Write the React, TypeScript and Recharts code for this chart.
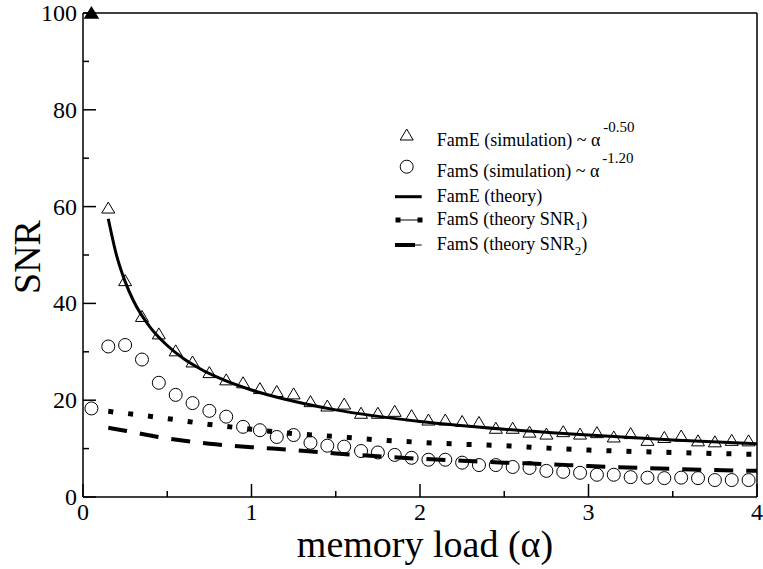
import React from 'react';
import { ComposedChart, Line, Scatter, XAxis, YAxis, Legend } from 'recharts';

const serif = 'Liberation Serif, Times New Roman, DejaVu Serif, serif';
const serifStyle = { fontFamily: serif };

// simulation points, alpha = 0.05 ... 3.95
const simAlpha = [
  0.05, 0.15, 0.25, 0.35, 0.45, 0.55, 0.65, 0.75, 0.85, 0.95,
  1.05, 1.15, 1.25, 1.35, 1.45, 1.55, 1.65, 1.75, 1.85, 1.95,
  2.05, 2.15, 2.25, 2.35, 2.45, 2.55, 2.65, 2.75, 2.85, 2.95,
  3.05, 3.15, 3.25, 3.35, 3.45, 3.55, 3.65, 3.75, 3.85, 3.95,
];
const famSSim = [
  18.3, 31.1, 31.4, 28.4, 23.6, 21.1, 19.4, 17.8, 16.6, 14.5,
  13.8, 12.4, 12.8, 11.2, 10.6, 10.4, 9.5, 9.2, 8.7, 8.1,
  7.7, 7.7, 7.1, 6.6, 6.6, 6.2, 6.0, 5.4, 5.2, 5.0,
  4.6, 4.6, 4.1, 4.0, 3.9, 4.0, 3.9, 3.5, 3.5, 3.5,
];
// FamE starts at 0.15 (the 0.05 point sits at the top of the axis)
const famESim = [
  59.7, 44.7, 37.3, 33.7, 30.2, 27.9, 25.7, 24.2, 23.6,
  22.4, 21.8, 21.3, 19.7, 18.8, 19.2, 17.3, 17.3, 17.7, 16.8,
  15.9, 15.9, 15.6, 15.4, 14.2, 14.2, 13.4, 13.0, 13.5, 13.0,
  13.3, 12.4, 13.1, 11.7, 12.3, 12.6, 11.6, 11.4, 11.7, 11.6,
];
const famECapped = [{ x: 0.05, y: 100 }];

const famETheoryAlpha = [0.15, 0.2, 0.25, 0.3, 0.4, 0.5, 0.6, 0.7, 0.8, 1.0, 1.2, 1.5, 2.0, 2.5, 3.0, 3.5, 4.0];
const famETheory = [57.5, 49.8, 44.5, 40.5, 35.0, 31.3, 28.5, 26.4, 24.7, 22.1, 20.2, 18.0, 15.6, 14.0, 12.8, 11.8, 11.0];

const famSTheoryAlpha = [0.15, 0.25, 0.5, 0.75, 1.0, 1.25, 1.5, 1.75, 2.0, 2.25, 2.5, 2.75, 3.0, 3.5, 4.0];
const famSTheorySNR1 = [17.7, 17.3, 16.2, 15.0, 14.0, 13.1, 12.5, 11.8, 11.3, 10.9, 10.6, 10.1, 9.7, 9.2, 8.8];
const famSTheorySNR2 = [14.3, 13.7, 12.1, 11.0, 10.3, 9.7, 9.0, 8.4, 7.9, 7.5, 7.1, 6.8, 6.4, 5.8, 5.4];

const xTicks = [0, 0.5, 1, 1.5, 2, 2.5, 3, 3.5, 4];
const yTicks = [0, 10, 20, 30, 40, 50, 60, 70, 80, 90, 100];

const famSPoints = simAlpha.map((x, i) => ({ x, y: famSSim[i] }));
const famEPoints = simAlpha.slice(1).map((x, i) => ({ x, y: famESim[i] }));
const famELine = famETheoryAlpha.map((x, i) => ({ x, y: famETheory[i] }));
const snr1Line = famSTheoryAlpha.map((x, i) => ({ x, y: famSTheorySNR1[i] }));
const snr2Line = famSTheoryAlpha.map((x, i) => ({ x, y: famSTheorySNR2[i] }));

const axisStyle = { stroke: '#000', strokeWidth: 1.5 };

const BottomTick = (props: any) => {
  const { x, y, payload } = props;
  const major = Number.isInteger(payload.value);
  return (
    <g>
      <line x1={x} y1={y} x2={x} y2={y - (major ? 13 : 6)} stroke="#000" strokeWidth={1.5} />
      {major && (
        <text x={x} y={y + 23} textAnchor="middle" fontSize={24} style={serifStyle} fill="#000">
          {payload.value}
        </text>
      )}
    </g>
  );
};

const TopTick = (props: any) => {
  const { x, y, payload } = props;
  const major = Number.isInteger(payload.value);
  return <line x1={x} y1={y} x2={x} y2={y + (major ? 13 : 6)} stroke="#000" strokeWidth={1.5} />;
};

const LeftTick = (props: any) => {
  const { x, y, payload } = props;
  const major = payload.value % 20 === 0;
  return (
    <g>
      <line x1={x} y1={y} x2={x + (major ? 13 : 6)} y2={y} stroke="#000" strokeWidth={1.5} />
      {major && (
        <text x={x - 6} y={y + 8} textAnchor="end" fontSize={24} style={serifStyle} fill="#000">
          {payload.value}
        </text>
      )}
    </g>
  );
};

const RightTick = (props: any) => {
  const { x, y, payload } = props;
  const major = payload.value % 20 === 0;
  return <line x1={x} y1={y} x2={x - (major ? 13 : 6)} y2={y} stroke="#000" strokeWidth={1.5} />;
};

const OpenTriangle = (props: any) => {
  const { cx, cy } = props;
  return (
    <polygon
      points={`${cx},${cy - 6} ${cx - 6.5},${cy + 5} ${cx + 6.5},${cy + 5}`}
      fill="none"
      stroke="#000"
      strokeWidth={1}
    />
  );
};

const FilledTriangle = (props: any) => {
  const { cx, cy } = props;
  return <polygon points={`${cx},${cy - 7} ${cx - 7.8},${cy + 5.7} ${cx + 7.8},${cy + 5.7}`} fill="#000" />;
};

const OpenCircle = (props: any) => {
  const { cx, cy } = props;
  return <circle cx={cx} cy={cy} r={6.5} fill="none" stroke="#000" strokeWidth={1} />;
};

const XLabel = () => (
  <text x={425} y={557} textAnchor="middle" fontSize={38} style={serifStyle} fill="#000">
    memory load (α)
  </text>
);

const YLabel = () => (
  <text x={40} y={257} transform="rotate(-90 40 257)" textAnchor="middle" fontSize={38} style={serifStyle} fill="#000">
    SNR
  </text>
);

const legendText = { fontFamily: serif, fontSize: 18 };
const supStyle = { fontSize: 15 };

const renderLegend = () => (
  <svg width={300} height={145} style={{ overflow: 'visible' }}>
    <polygon points="16.7,14 10.2,25 23.2,25" fill="none" stroke="#000" strokeWidth={1} />
    <text x={46.7} y={30.7} style={legendText} fill="#000">
      FamE (simulation) ~ α
      <tspan dx={3} dy={-14} style={supStyle}>-0.50</tspan>
    </text>

    <circle cx={16.7} cy={51.7} r={6.5} fill="none" stroke="#000" strokeWidth={1} />
    <text x={46.7} y={61.7} style={legendText} fill="#000">
      FamS (simulation) ~ α
      <tspan dx={3} dy={-14} style={supStyle}>-1.20</tspan>
    </text>

    <line x1={5} y1={81.7} x2={31.7} y2={81.7} stroke="#000" strokeWidth={3} />
    <text x={46.7} y={86.7} style={legendText} fill="#000">FamE (theory)</text>

    <line x1={8} y1={105} x2={30} y2={105} stroke="#000" strokeWidth={1} />
    <rect x={5.5} y={102.5} width={5} height={5} fill="#000" />
    <rect x={27.5} y={102.5} width={5} height={5} fill="#000" />
    <text x={46.7} y={109.5} style={legendText} fill="#000">
      FamS (theory SNR<tspan dy={5} style={{ fontSize: 13 }}>1</tspan>
      <tspan dy={-5}>)</tspan>
    </text>

    <line x1={5} y1={130} x2={25} y2={130} stroke="#000" strokeWidth={4} />
    <line x1={25} y1={130} x2={31.7} y2={130} stroke="#000" strokeWidth={1} />
    <text x={46.7} y={135} style={legendText} fill="#000">
      FamS (theory SNR<tspan dy={5} style={{ fontSize: 13 }}>2</tspan>
      <tspan dy={-5}>)</tspan>
    </text>
  </svg>
);

export default function App() {
  return (
    <div style={{ position: 'absolute', left: 0, top: 0, width: 763, height: 569, background: '#fff' }}>
      <ComposedChart width={763} height={569} margin={{ top: 12, right: 5, bottom: 71, left: 82 }}>
        <XAxis
          dataKey="x"
          type="number"
          domain={[0, 4]}
          ticks={xTicks}
          interval={0}
          height={1}
          tickSize={0}
          tickMargin={0}
          tickLine={false}
          axisLine={axisStyle}
          tick={BottomTick}
          label={<XLabel />}
        />
        <XAxis
          xAxisId="top"
          orientation="top"
          type="number"
          domain={[0, 4]}
          ticks={xTicks}
          interval={0}
          height={1}
          tickSize={0}
          tickMargin={0}
          tickLine={false}
          axisLine={axisStyle}
          tick={TopTick}
        />
        <YAxis
          dataKey="y"
          type="number"
          domain={[0, 100]}
          ticks={yTicks}
          interval={0}
          width={1}
          tickSize={0}
          tickMargin={0}
          tickLine={false}
          axisLine={axisStyle}
          tick={LeftTick}
          label={<YLabel />}
        />
        <YAxis
          yAxisId="right"
          orientation="right"
          type="number"
          domain={[0, 100]}
          ticks={yTicks}
          interval={0}
          width={1}
          tickSize={0}
          tickMargin={0}
          tickLine={false}
          axisLine={axisStyle}
          tick={RightTick}
        />
        <Legend
          content={renderLegend}
          layout="horizontal"
          verticalAlign="middle"
          wrapperStyle={{ position: 'absolute', left: 390, top: 115, width: 300, height: 145 }}
        />
        <Scatter name="FamE (simulation)" data={famEPoints} shape={OpenTriangle} isAnimationActive={false} />
        <Scatter name="FamE capped" data={famECapped} shape={FilledTriangle} isAnimationActive={false} />
        <Scatter name="FamS (simulation)" data={famSPoints} shape={OpenCircle} isAnimationActive={false} />
        <Line
          name="FamE (theory)"
          data={famELine}
          dataKey="y"
          type="monotone"
          stroke="#000"
          strokeWidth={3}
          dot={false}
          activeDot={false}
          isAnimationActive={false}
        />
        <Line
          name="FamS (theory SNR1)"
          data={snr1Line}
          dataKey="y"
          type="monotone"
          stroke="#000"
          strokeWidth={5}
          strokeDasharray="5 15"
          dot={false}
          activeDot={false}
          isAnimationActive={false}
        />
        <Line
          name="FamS (theory SNR2)"
          data={snr2Line}
          dataKey="y"
          type="monotone"
          stroke="#000"
          strokeWidth={4}
          strokeDasharray="19 13"
          dot={false}
          activeDot={false}
          isAnimationActive={false}
        />
      </ComposedChart>
    </div>
  );
}
